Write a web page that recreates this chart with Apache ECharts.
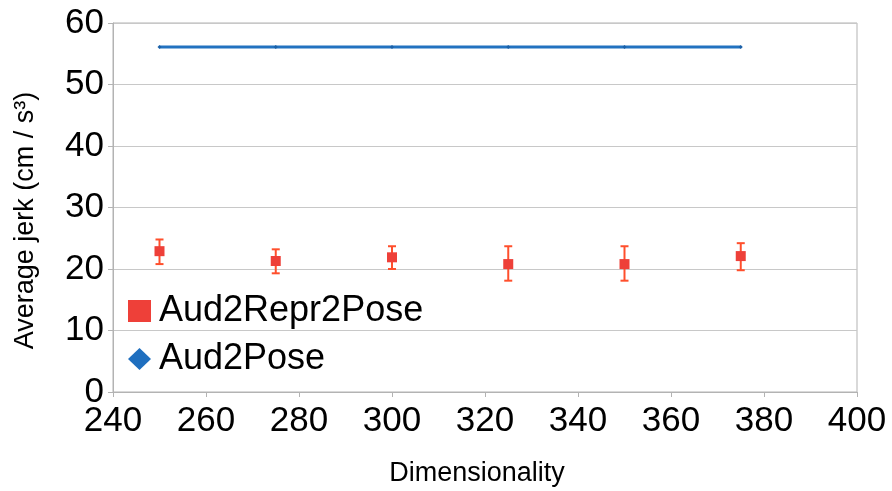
<!DOCTYPE html>
<html>
<head>
<meta charset="utf-8">
<script src="https://cdn.jsdelivr.net/npm/echarts@6/dist/echarts.min.js"></script>
<style>html,body{margin:0;padding:0;background:#fff;}#c{width:892px;height:491px;}</style>
</head>
<body>
<div id="c"></div>
<script>
var dims = [250, 275, 300, 325, 350, 375];
var repr2poseMean = [22.9, 21.3, 21.9, 20.8, 20.8, 22.1];
var repr2poseLow = [20.8, 19.3, 20.0, 18.1, 18.1, 19.8];
var repr2poseHigh = [24.8, 23.2, 23.7, 23.7, 23.7, 24.2];
var aud2pose = [56.1, 56.1, 56.1, 56.1, 56.1, 56.1];
var xTicks = [240, 260, 280, 300, 320, 340, 360, 380, 400];
var yTicks = [0, 10, 20, 30, 40, 50, 60];

var chart = echarts.init(document.getElementById('c'), null, {renderer: 'canvas'});
var FONT = 'Liberation Sans';
var option = {
  animation: false,
  backgroundColor: '#fff',
  grid: {left: 113, right: 35, top: 23, bottom: 99, show: true, borderColor: '#b3b3b3', borderWidth: 1,
         containLabel: false, outerBoundsMode: 'none'},
  legend: {
    orient: 'vertical', left: 128, top: 293, padding: 0, itemWidth: 23, itemHeight: 22, itemGap: 12,
    textStyle: {fontFamily: FONT, fontSize: 36, color: '#000', padding: [0, 0, 0, 3]},
    data: [
      {name: 'Aud2Repr2Pose', icon: 'rect', itemStyle: {color: '#ee4039', opacity: 1}},
      {name: 'Aud2Pose', icon: 'diamond', itemStyle: {color: '#1f6fbf', opacity: 1}}
    ]
  },
  xAxis: {
    type: 'value', min: xTicks[0], max: xTicks[xTicks.length - 1], interval: 20,
    name: 'Dimensionality', nameLocation: 'middle', nameGap: 68,
    nameTextStyle: {fontFamily: FONT, fontSize: 27, color: '#000', padding: [0, 16, 0, 0]},
    axisLine: {show: true, lineStyle: {color: '#b3b3b3'}},
    axisTick: {show: true, length: 5, lineStyle: {color: '#b3b3b3'}},
    axisLabel: {fontFamily: FONT, fontSize: 35, color: '#000', margin: 12},
    splitLine: {show: false}
  },
  yAxis: {
    type: 'value', min: yTicks[0], max: yTicks[yTicks.length - 1], interval: 10,
    name: 'Average jerk (cm / s³)', nameLocation: 'middle', nameGap: 74,
    nameTextStyle: {fontFamily: FONT, fontSize: 27, color: '#000', padding: [0, 26, 0, 0]},
    axisLine: {show: true, lineStyle: {color: '#b3b3b3'}},
    axisTick: {show: true, length: 5, lineStyle: {color: '#b3b3b3'}},
    axisLabel: {fontFamily: FONT, fontSize: 35, color: '#000', margin: 9},
    splitLine: {show: true, lineStyle: {color: '#c8c8c8', width: 1}}
  },
  series: [
    {
      name: 'Aud2Pose', type: 'line',
      data: dims.map(function (d, i) { return [d, aud2pose[i]]; }),
      lineStyle: {color: '#2272c0', width: 3},
      itemStyle: {color: '#1a60a8', opacity: 1},
      symbol: 'diamond', symbolSize: 4, showSymbol: true
    },
    {
      name: 'Aud2Repr2Pose-err', type: 'custom',
      data: dims.map(function (d, i) { return [d, repr2poseLow[i], repr2poseHigh[i]]; }),
      renderItem: function (params, api) {
        var x = api.value(0);
        var lo = api.coord([x, api.value(1)]);
        var hi = api.coord([x, api.value(2)]);
        var w = 4;
        var st = {stroke: '#ff4f2c', lineWidth: 2};
        return {type: 'group', children: [
          {type: 'line', shape: {x1: lo[0], y1: lo[1], x2: hi[0], y2: hi[1]}, style: st},
          {type: 'line', shape: {x1: lo[0] - w, y1: lo[1], x2: lo[0] + w, y2: lo[1]}, style: st},
          {type: 'line', shape: {x1: hi[0] - w, y1: hi[1], x2: hi[0] + w, y2: hi[1]}, style: st}
        ]};
      },
      z: 3
    },
    {
      name: 'Aud2Repr2Pose', type: 'scatter',
      data: dims.map(function (d, i) { return [d, repr2poseMean[i]]; }),
      symbol: 'rect', symbolSize: 10,
      itemStyle: {color: '#ee4039', opacity: 1},
      z: 4
    }
  ]
};
chart.setOption(option);
</script>
</body>
</html>
